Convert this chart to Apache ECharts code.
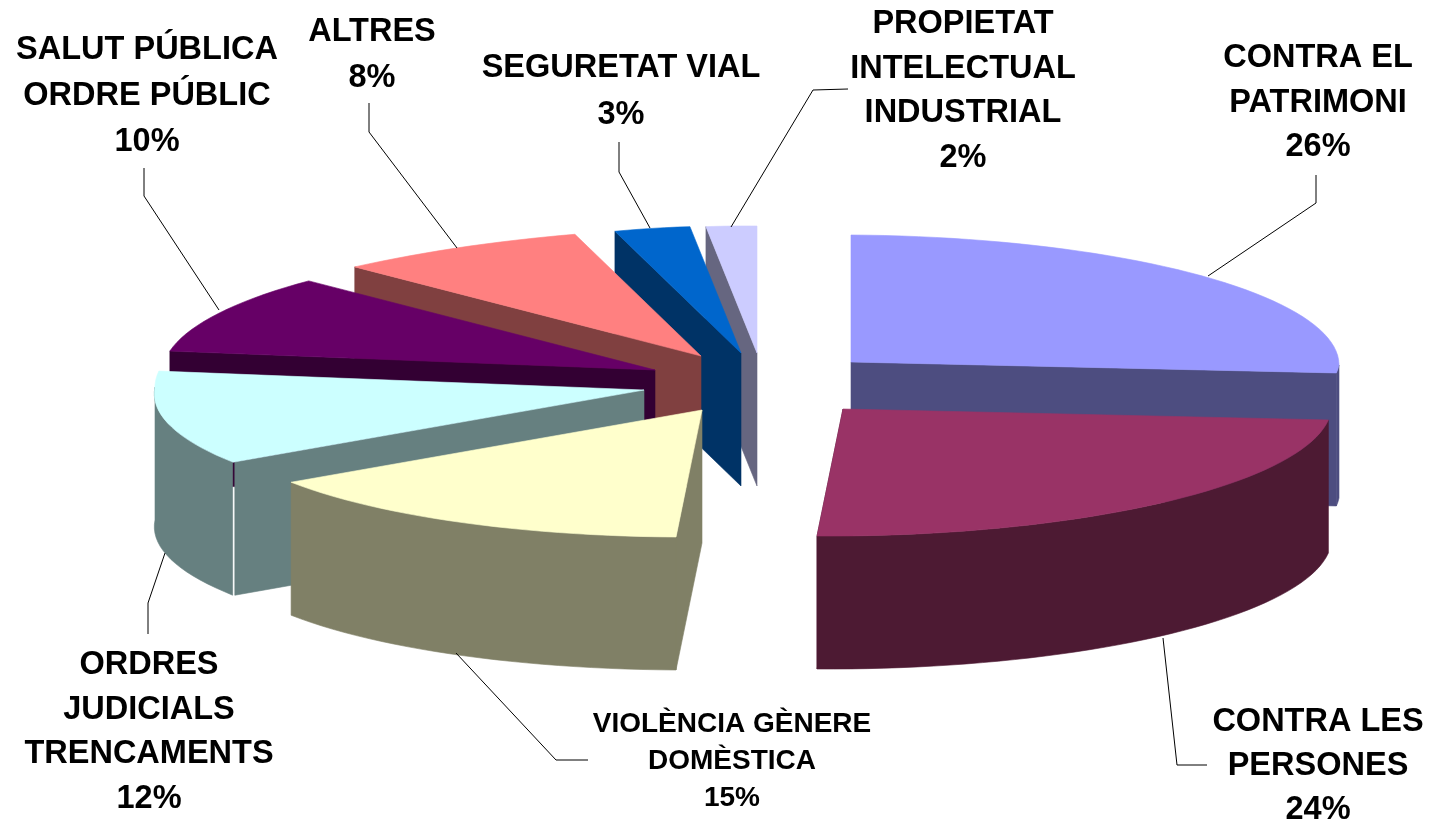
<!DOCTYPE html>
<html>
<head>
<meta charset="utf-8">
<style>html,body{margin:0;padding:0;background:#fff}#c{width:1430px;height:823px}</style>
<script src="https://cdn.jsdelivr.net/npm/echarts@6/dist/echarts.min.js"></script>
</head>
<body>
<div id="c"></div>
<script>
// Data
const categories = ['CONTRA EL\nPATRIMONI','CONTRA LES\nPERSONES','VIOLÈNCIA GÈNERE\nDOMÈSTICA','ORDRES\nJUDICIALS\nTRENCAMENTS','SALUT PÚBLICA\nORDRE PÚBLIC','ALTRES','SEGURETAT VIAL','PROPIETAT\nINTELECTUAL\nINDUSTRIAL'];
const values = [26,24,15,12,10,8,3,2];

// Styles
const topColors  = ['#9999ff','#993366','#ffffcc','#ccffff','#660066','#ff8080','#0066cc','#ccccff'];
const wallColors = ['#4d4d80','#4d1a33','#808066','#668080','#330033','#804040','#003366','#666680'];
const paintRank  = [0,7,6,5,4,3,2,1];

// Layout: exploded pivot of every slice
const pivotX = [851,843,702,644,655,701,741,757];
const pivotY = [362,409,410,390,370,356,353,353];
const seam   = [null,null,null,[-0.5,1.7],null,null,null,null];
const radiusY = 127, depth = 133;
const leftKnots = [[0,407],[18,408],[32,445],[46.8,475],[82.8,489],[180,489]];
const labelX  = [1318,1318,732,149,147,372,621,963];
const labelY  = [103,766,761,732,96,55,91.5,91];
const labelLH = [44.5,44,37,44.4,46,46,47,44.7];
const labelFS = [32.5,32.5,28,32.5,32.5,32.5,32.5,32.5];
const leaders = [
  [[1316,175],[1316,203],[1208,276]],
  [[1163,638],[1177,765],[1207,765]],
  [[456,653],[556,760],[588,760]],
  [[165,553],[148,603],[148,634]],
  [[144,168],[144,196],[219,310]],
  [[369,103],[369,132],[457,248]],
  [[619,142],[619,172],[650,228]],
  [[848,89],[813,90],[731,227]]
];

const total = values.reduce((a,b)=>a+b,0);
const RAD = Math.PI/180;
function radiusX(a){
  if(a>=0) return 488;
  const m=-a;
  for(let k=1;k<leftKnots.length;k++){
    if(m<=leftKnots[k][0]){
      const p=leftKnots[k-1],q=leftKnots[k];
      return p[1]+(q[1]-p[1])*(m-p[0])/(q[0]-p[0]);
    }
  }
  return 489;
}
function rim(i,deg){
  const a = deg>180 ? deg-360 : deg;
  const s=Math.sin(a*RAD), c=Math.cos(a*RAD);
  return [pivotX[i]+radiusX(a)*s-26*Math.max(0,-c), pivotY[i]-radiusY*c+3*s];
}
function arc(i,d0,d1){
  const n=Math.max(2,Math.ceil((d1-d0)/2)),pts=[];
  for(let k=0;k<=n;k++) pts.push(rim(i,d0+(d1-d0)*k/n));
  return pts;
}
function poly(points,fill,z2){
  return {type:'polygon',shape:{points},z2,silent:true,
    style:{fill,stroke:fill,lineWidth:0.6}};
}
function renderItem(params,api){
  const i=api.value(0), v=api.value(1);
  let before=0; for(let k=0;k<i;k++) before+=values[k];
  const d0=before/total*360, d1=(before+v)/total*360;
  const base=paintRank[i]*10, children=[];
  const P=[pivotX[i],pivotY[i]], gap=seam[i]||[0,0];
  // Cut face that looks towards the viewer
  const leftHalf=d0>=180;
  const cp=rim(i,leftHalf?d0:d1);
  const cx=cp[0]+gap[1];
  children.push(poly([P,[cx,cp[1]],[cx,cp[1]+depth],[P[0],P[1]+depth]],wallColors[i],base+1));
  // Outer curved wall, only its front part
  const w0=Math.max(d0,90), w1=Math.min(d1,270);
  if(w1>w0){
    const top=arc(i,w0,w1);
    if(gap[0]&&leftHalf===true){ top[0]=[top[0][0]+gap[0],top[0][1]]; }
    const bottom=top.map(p=>[p[0],p[1]+depth]).reverse();
    children.push(poly(top.concat(bottom),wallColors[i],base+2));
  }
  // Top face
  children.push(poly([P].concat(arc(i,d0,d1)),topColors[i],base+3));
  // Leader line
  children.push({type:'polyline',z2:200,silent:true,shape:{points:leaders[i]},
    style:{fill:'none',stroke:'#000',lineWidth:1}});
  // Label
  children.push({type:'text',z2:201,silent:true,
    x:labelX[i],y:labelY[i],
    style:{text:categories[i]+'\n'+v+'%',fill:'#000',
      font:'bold '+labelFS[i]+'px "Liberation Sans", Arial, sans-serif',
      lineHeight:labelLH[i],align:'center',verticalAlign:'middle'}});
  return {type:'group',children};
}
const chart=echarts.init(document.getElementById('c'),null,{renderer:'canvas'});
chart.setOption({
  animation:false,
  backgroundColor:'#ffffff',
  tooltip:{show:false},
  series:[{type:'custom',coordinateSystem:'none',renderItem,clip:false,
    data:values.map((v,i)=>({name:categories[i],value:[i,v]}))}]
});
</script>
</body>
</html>
